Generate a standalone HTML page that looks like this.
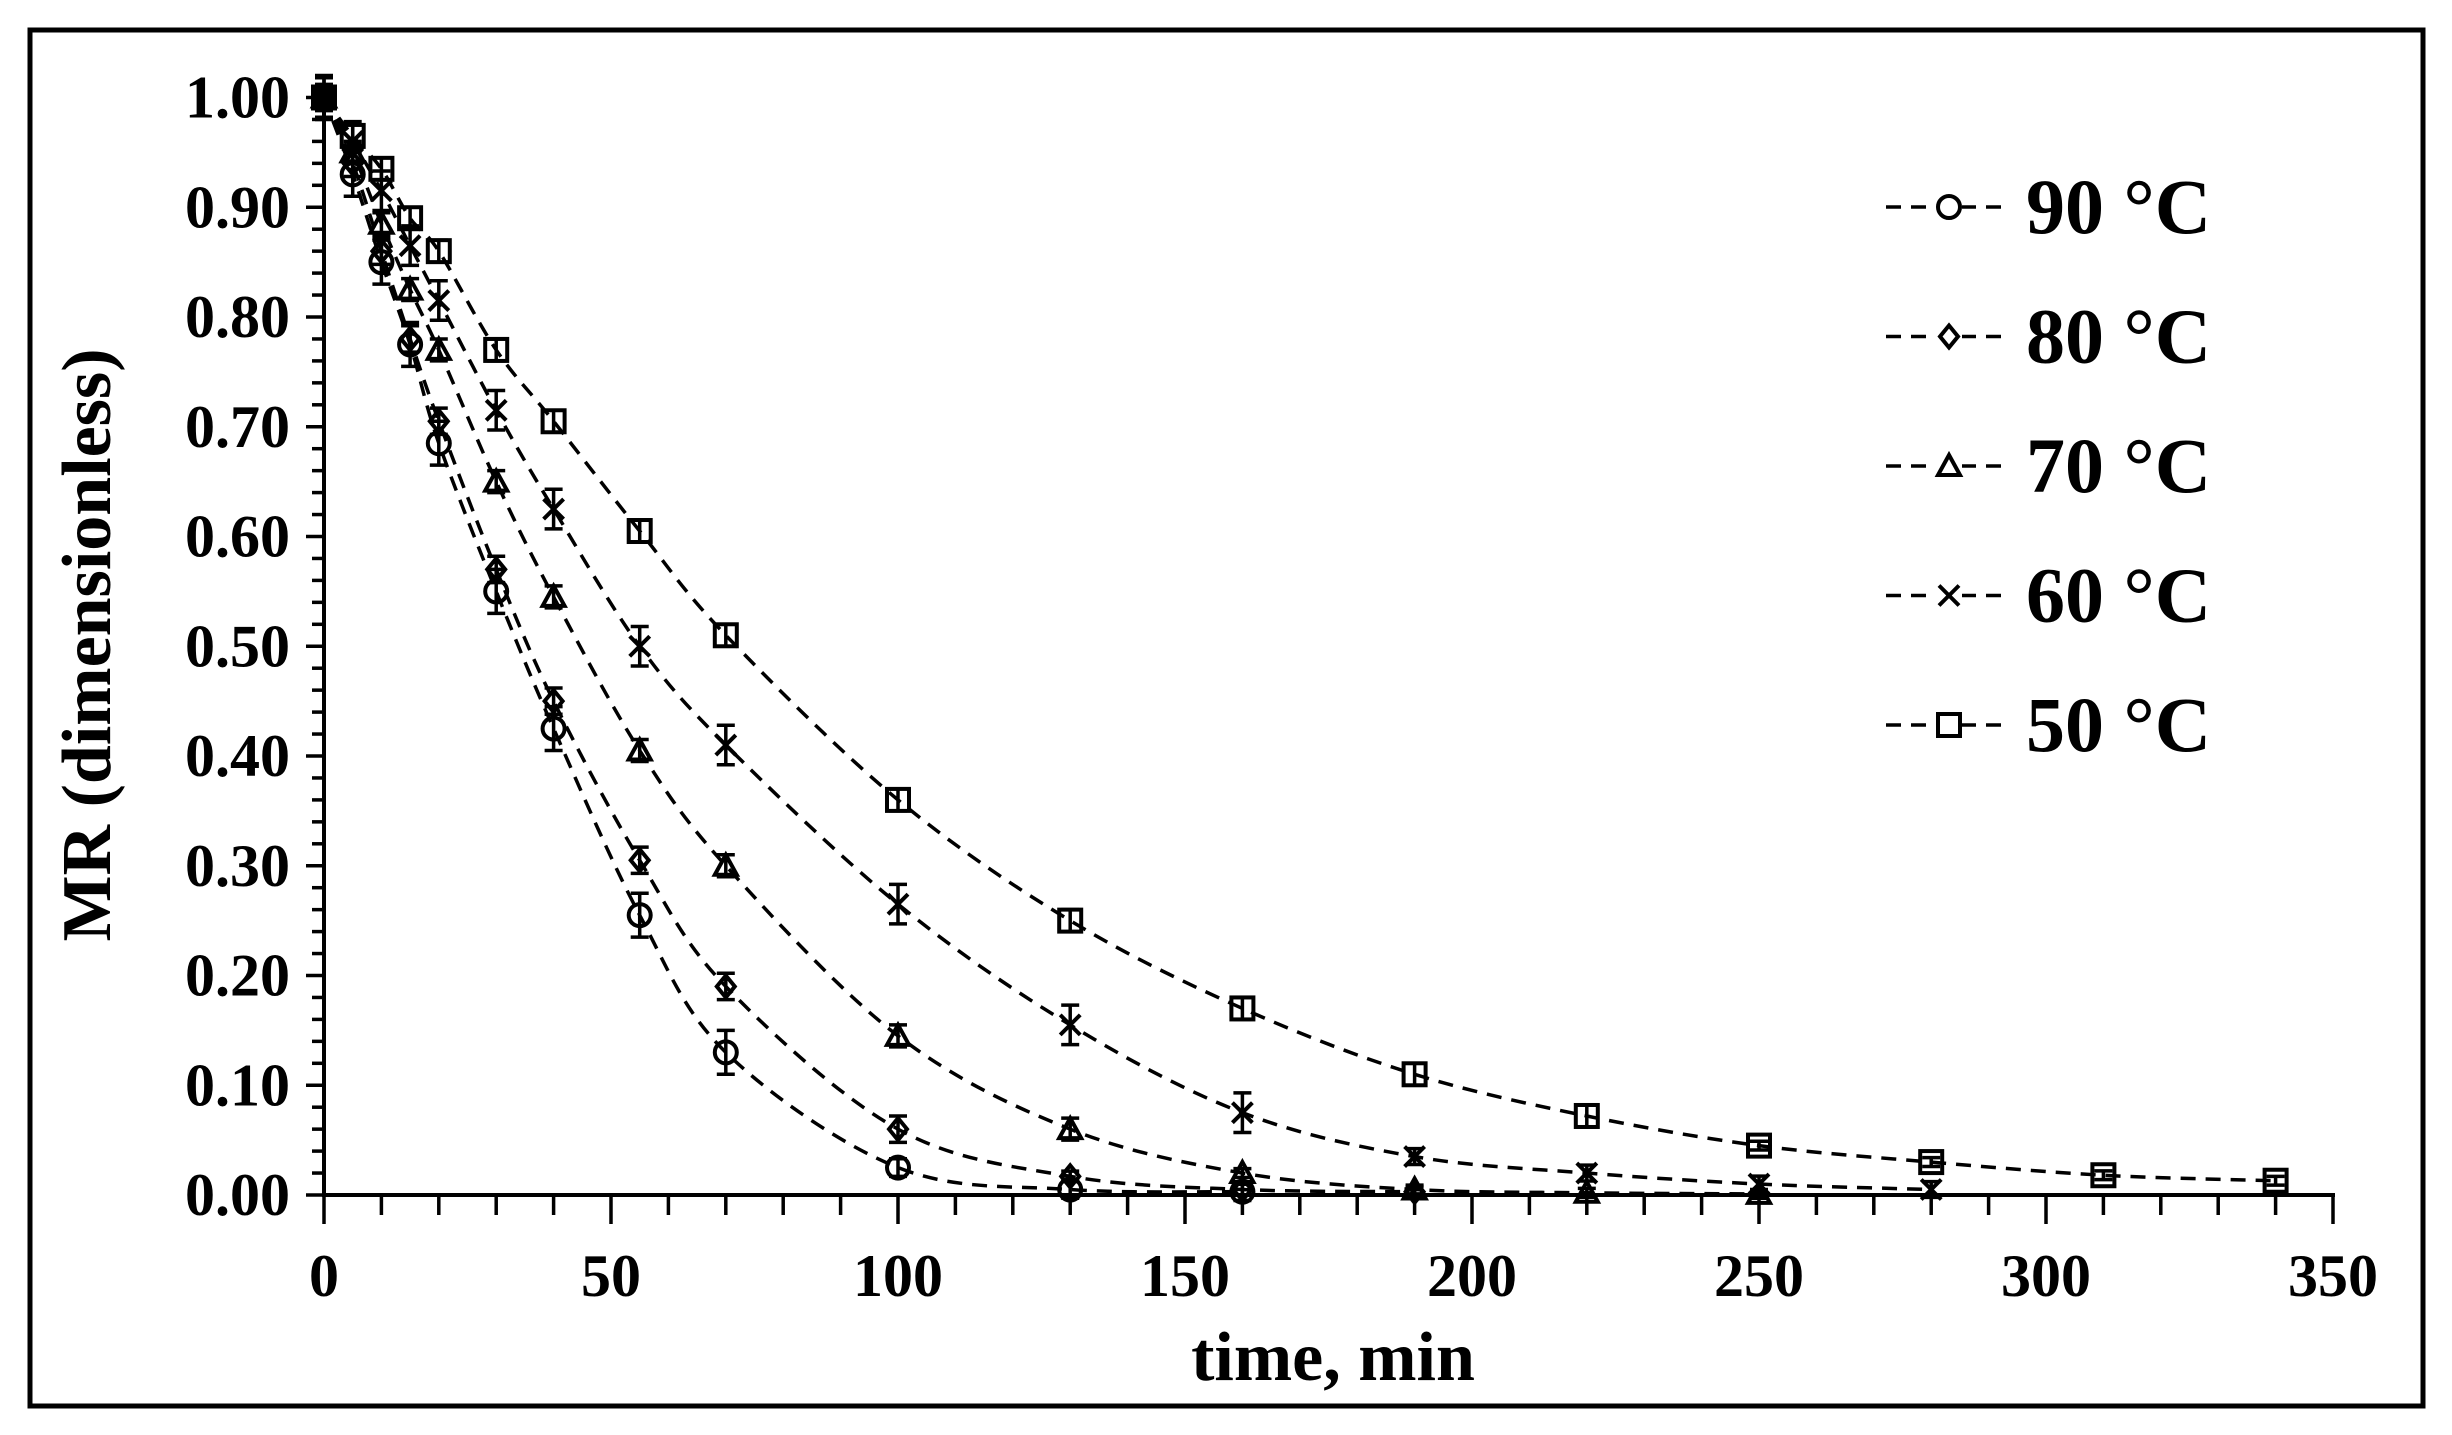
<!DOCTYPE html>
<html><head><meta charset="utf-8"><style>
html,body{margin:0;padding:0;background:#fff}
svg{display:block}
text{font-family:"Liberation Serif",serif;font-weight:bold;fill:#000}
</style></head><body>
<svg id="s" width="2452" height="1435" xmlns="http://www.w3.org/2000/svg">
<rect x="30" y="30" width="2393" height="1376" fill="none" stroke="#000" stroke-width="5"/>
<g id="g"></g>
<text x="1333" y="1380" font-size="70" text-anchor="middle">time, min</text>
<text transform="translate(110,645) rotate(-90)" font-size="70" text-anchor="middle">MR (dimensionless)</text>
</svg>
<script>
const NS="http://www.w3.org/2000/svg",g=document.getElementById('g');
const X=t=>324+t*5.74, Y=v=>1195-v*1097.5;
function el(n,a){const e=document.createElementNS(NS,n);for(const k in a)e.setAttribute(k,a[k]);g.appendChild(e);return e;}
function txt(x,y,s,size,anchor){const e=el('text',{x:x,y:y,'font-size':size,'text-anchor':anchor});e.textContent=s;}
el('line',{x1:324,y1:97,x2:324,y2:1197,stroke:'#000','stroke-width':4});
el('line',{x1:322,y1:1195,x2:X(350)+2,y2:1195,stroke:'#000','stroke-width':4});
for(let i=0;i<=50;i++){const y=Y(i*0.02),maj=i%5==0;el('line',{x1:maj?306:312,y1:y,x2:324,y2:y,stroke:'#000','stroke-width':3.5});
 if(maj)txt(290,y+20,(i*0.02).toFixed(2),60,'end');}
for(let t=0;t<=350;t+=10){const x=X(t),maj=t%50==0;el('line',{x1:x,y1:1195,x2:x,y2:maj?1224:1215,stroke:'#000','stroke-width':3.5});
 if(maj)txt(x,1296,String(t),60,'middle');}
const data={
c:[[0,1],[5,.93],[10,.85],[15,.775],[20,.685],[30,.55],[40,.425],[55,.255],[70,.13],[100,.025],[130,.005],[160,.003]],
d:[[0,1],[5,.94],[10,.86],[15,.78],[20,.705],[30,.57],[40,.45],[55,.305],[70,.19],[100,.06],[130,.017],[160,.005],[190,.003]],
t:[[0,1],[5,.95],[10,.885],[15,.825],[20,.77],[30,.65],[40,.545],[55,.405],[70,.30],[100,.145],[130,.06],[160,.02],[190,.005],[220,.002],[250,.001]],
x:[[0,1],[5,.96],[10,.915],[15,.865],[20,.815],[30,.715],[40,.625],[55,.50],[70,.41],[100,.265],[130,.155],[160,.075],[190,.035],[220,.02],[250,.01],[280,.005]],
s:[[0,1],[5,.965],[10,.935],[15,.89],[20,.86],[30,.77],[40,.705],[55,.605],[70,.51],[100,.36],[130,.25],[160,.17],[190,.11],[220,.072],[250,.045],[280,.03],[310,.018],[340,.013]]};
const err={c:.02,d:.012,t:.01,x:.018,s:.01};
function curve(p){const P=p.map(a=>[X(a[0]),Y(a[1])]);let d='M'+P[0][0]+','+P[0][1];
 for(let i=0;i<P.length-1;i++){const p0=P[i-1]||P[i],p1=P[i],p2=P[i+1],p3=P[i+2]||P[i+1];
  d+=' C'+(p1[0]+(p2[0]-p0[0])/6)+','+(p1[1]+(p2[1]-p0[1])/6)+' '+(p2[0]-(p3[0]-p1[0])/6)+','+(p2[1]-(p3[1]-p1[1])/6)+' '+p2[0]+','+p2[1];}
 el('path',{d:d,fill:'none',stroke:'#000','stroke-width':3.5,'stroke-dasharray':'15 10'});}
function marker(k,x,y){const a={fill:'none',stroke:'#000','stroke-width':4};
 if(k=='c')el('circle',Object.assign({cx:x,cy:y,r:11},a));
 if(k=='d')el('polygon',Object.assign({points:`${x},${y-11} ${x+9},${y} ${x},${y+11} ${x-9},${y}`},a));
 if(k=='t')el('polygon',Object.assign({points:`${x},${y-11} ${x+11},${y+9} ${x-11},${y+9}`},a));
 if(k=='x'){el('line',Object.assign({x1:x-10,y1:y-10,x2:x+10,y2:y+10},a));el('line',Object.assign({x1:x-10,y1:y+10,x2:x+10,y2:y-10},a));}
 if(k=='s')el('rect',Object.assign({x:x-11,y:y-11,width:22,height:22},a));}
for(const k of ['c','d','t','x','s']){curve(data[k]);
 for(const [t,v] of data[k]){const x=X(t),y=Y(v),e=err[k]*1097.5*(v>0.05?1:0.4);
  el('line',{x1:x,y1:y-e,x2:x,y2:y+e,stroke:'#000','stroke-width':3.5});
  el('line',{x1:x-9,y1:y-e,x2:x+9,y2:y-e,stroke:'#000','stroke-width':3.5});
  el('line',{x1:x-9,y1:y+e,x2:x+9,y2:y+e,stroke:'#000','stroke-width':3.5});
  marker(k,x,y);}}
el('rect',{x:X(0)-12,y:Y(1)-12,width:24,height:24,fill:'#000'});
const L=[['c','90 °C'],['d','80 °C'],['t','70 °C'],['x','60 °C'],['s','50 °C']];
L.forEach((l,i)=>{const y=207+i*129.5;
 el('line',{x1:1886,y1:y,x2:2004,y2:y,stroke:'#000','stroke-width':3.5,'stroke-dasharray':'15 10'});
 el('rect',{x:1936,y:y-14,width:26,height:28,fill:'#fff'});
 marker(l[0],1949,y);txt(2026,y+26,l[1],78,'start');});
</script>
</body></html>
